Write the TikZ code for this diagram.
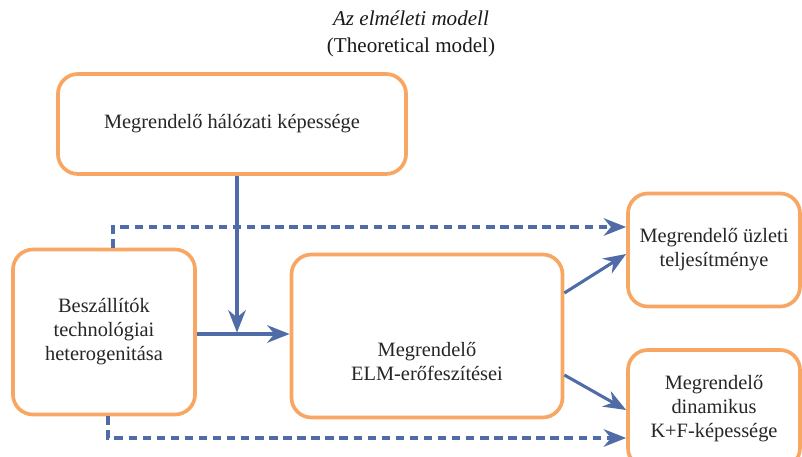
\documentclass[tikz,border=0pt]{standalone}
\usepackage{fontspec}
\setmainfont{Liberation Serif}
\usetikzlibrary{arrows.meta}
\definecolor{boxorange}{RGB}{248,166,99}
\definecolor{arrowblue}{RGB}{80,108,168}
\begin{document}
\begin{tikzpicture}[
        x=0.025cm, y=-0.025cm,
        box/.style={rectangle, rounded corners=0.5cm, draw=boxorange, line width=2.6pt, fill=white, align=center, text=black!85, font=\fontsize{14.5pt}{17pt}\selectfont},
        arrow/.style={-{Stealth[length=16pt, width=12.5pt]}, line width=2.2pt, draw=arrowblue},
        darrow/.style={arrow, dash pattern=on 6pt off 4pt}
    ]
    \useasboundingbox (0,0) rectangle (802,457);

    \node[font=\fontsize{15pt}{19pt}\selectfont, align=center, text=black!90] (title) at (411,34) {\textit{Az elméleti modell}\\(Theoretical model)};

    \node[box, minimum width=8.7cm, minimum height=2.5cm] (net) at (232,124) {Megrendelő hálózati képessége};
    \node[box, minimum width=4.55cm, minimum height=4.125cm] (supp) at (104,332) {Beszállítók\\technológiai\\heterogenitása};
    \node[box, minimum width=6.775cm, minimum height=4.075cm,
        label={[align=center, text=black!85, font=\fontsize{14.5pt}{17pt}\selectfont, yshift=-18pt]center:Megrendelő\\ELM-erőfeszítései}] (elm) at (427,336) {};
    \node[box, minimum width=4.3cm, minimum height=2.825cm] (biz) at (714,250) {Megrendelő üzleti\\teljesítménye};
    \node[box, minimum width=4.3cm, minimum height=2.95cm] (dyn) at (714,409) {Megrendelő\\dinamikus\\K+F-képessége};

    \coordinate (join) at (237,334);

    \draw[arrow, shorten >=1pt] (237,0 |- net.south) -- (join);
    \draw[arrow] (supp.east |- join) -- (elm.west |- join);
    \draw[darrow] (113,0 |- supp.north) |- (biz.west |- 0,227);
    \draw[darrow] (108,0 |- supp.south) |- (dyn.west |- 0,438);
    \draw[arrow] (elm.east |- 0,293) -- (biz.west |- 0,254);
    \draw[arrow] (elm.east |- 0,375) -- (dyn.west |- 0,410);

\end{tikzpicture}
\end{document}
